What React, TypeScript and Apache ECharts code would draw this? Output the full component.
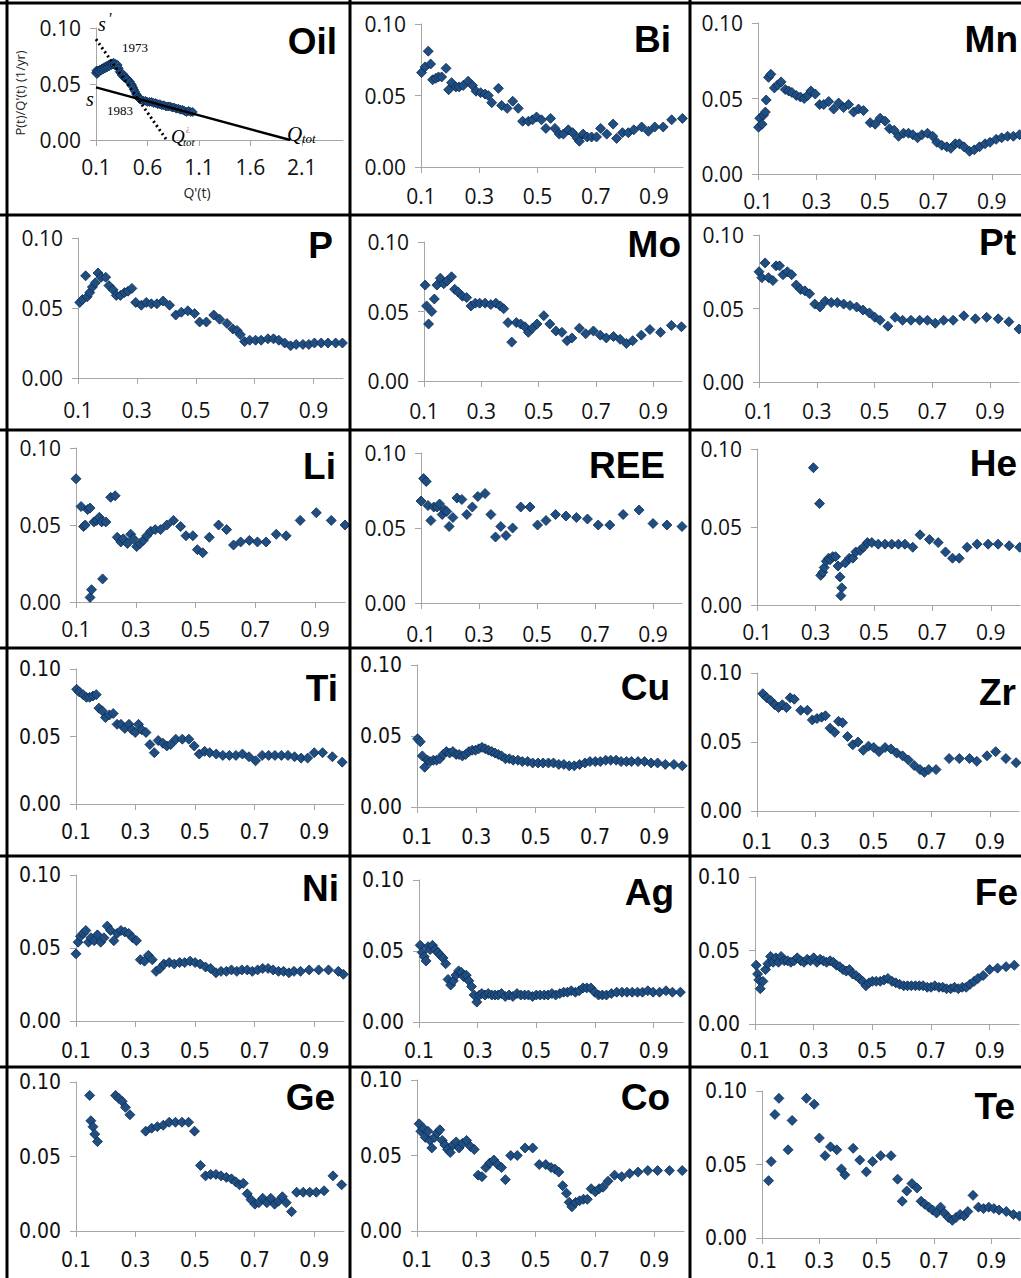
import React, { useEffect, useRef } from "react";
import * as echarts from "echarts";

// ---------- data (x = Q'(t), y = P(t)/Q'(t) in 1/yr) ----------
const oilData = [[0.10,0.060],[0.105,0.062],[0.11,0.059],[0.115,0.061],[0.12,0.062],[0.13,0.061],[0.14,0.063],[0.15,0.062],[0.16,0.064],[0.17,0.063],[0.18,0.065],[0.19,0.064],[0.20,0.066],[0.21,0.065],[0.22,0.067],[0.23,0.066],[0.24,0.068],[0.25,0.067],[0.26,0.068],[0.27,0.069],[0.28,0.067],[0.29,0.068],[0.30,0.066],[0.31,0.067],[0.32,0.064],[0.33,0.061],[0.34,0.060],[0.35,0.058],[0.36,0.059],[0.37,0.056],[0.38,0.057],[0.39,0.055],[0.40,0.055],[0.41,0.054],[0.42,0.052],[0.43,0.052],[0.44,0.050],[0.45,0.049],[0.46,0.047],[0.47,0.045],[0.48,0.043],[0.49,0.041],[0.50,0.040],[0.51,0.038],[0.52,0.037],[0.53,0.036],[0.54,0.036],[0.56,0.035],[0.58,0.035],[0.60,0.034],[0.62,0.034],[0.64,0.034],[0.66,0.033],[0.68,0.033],[0.70,0.032],[0.72,0.032],[0.74,0.031],[0.76,0.031],[0.78,0.030],[0.80,0.030],[0.82,0.030],[0.84,0.029],[0.86,0.029],[0.88,0.028],[0.90,0.028],[0.92,0.027],[0.94,0.027],[0.96,0.026],[0.98,0.025],[1.00,0.026],[1.02,0.025],[1.04,0.025]];
const oilLineEarly = [[0.1,0.090],[0.787,0.0]];
const oilLineLate = [[0.1,0.047],[1.987,0.0]];

const biData = [[0.102,0.066],[0.114,0.070],[0.125,0.081],[0.133,0.072],[0.140,0.061],[0.151,0.062],[0.160,0.063],[0.171,0.063],[0.186,0.069],[0.195,0.054],[0.205,0.059],[0.220,0.056],[0.231,0.056],[0.245,0.057],[0.262,0.060],[0.277,0.057],[0.289,0.053],[0.305,0.052],[0.320,0.051],[0.331,0.050],[0.343,0.045],[0.366,0.055],[0.377,0.043],[0.396,0.041],[0.415,0.046],[0.434,0.041],[0.449,0.032],[0.469,0.032],[0.483,0.033],[0.497,0.035],[0.514,0.033],[0.529,0.027],[0.545,0.034],[0.560,0.027],[0.575,0.023],[0.589,0.023],[0.606,0.026],[0.621,0.024],[0.637,0.020],[0.644,0.018],[0.657,0.023],[0.671,0.021],[0.686,0.021],[0.703,0.021],[0.717,0.027],[0.738,0.023],[0.760,0.030],[0.772,0.020],[0.792,0.024],[0.812,0.024],[0.831,0.026],[0.858,0.028],[0.881,0.025],[0.903,0.028],[0.932,0.028],[0.961,0.033],[0.998,0.034]];
const mnData = [[0.102,0.031],[0.106,0.037],[0.114,0.033],[0.119,0.039],[0.125,0.041],[0.128,0.049],[0.136,0.064],[0.144,0.066],[0.156,0.057],[0.167,0.059],[0.179,0.061],[0.193,0.056],[0.205,0.055],[0.216,0.054],[0.231,0.052],[0.245,0.051],[0.258,0.050],[0.270,0.052],[0.281,0.055],[0.296,0.053],[0.311,0.046],[0.325,0.046],[0.342,0.048],[0.359,0.043],[0.376,0.047],[0.393,0.044],[0.410,0.046],[0.427,0.041],[0.444,0.043],[0.461,0.042],[0.484,0.034],[0.501,0.033],[0.518,0.037],[0.535,0.035],[0.550,0.030],[0.566,0.029],[0.581,0.025],[0.598,0.027],[0.615,0.027],[0.630,0.026],[0.646,0.024],[0.661,0.026],[0.680,0.027],[0.698,0.025],[0.712,0.021],[0.729,0.019],[0.746,0.018],[0.760,0.017],[0.775,0.020],[0.789,0.020],[0.805,0.018],[0.824,0.015],[0.840,0.016],[0.858,0.018],[0.877,0.020],[0.894,0.021],[0.915,0.023],[0.934,0.024],[0.954,0.025],[0.974,0.025],[0.995,0.026]];
const pData = [[0.106,0.054],[0.115,0.056],[0.126,0.073],[0.131,0.058],[0.140,0.061],[0.149,0.065],[0.159,0.068],[0.168,0.075],[0.179,0.072],[0.194,0.072],[0.205,0.066],[0.219,0.063],[0.230,0.059],[0.244,0.059],[0.258,0.061],[0.270,0.062],[0.283,0.064],[0.296,0.054],[0.315,0.052],[0.332,0.054],[0.349,0.053],[0.368,0.053],[0.389,0.055],[0.411,0.052],[0.432,0.045],[0.451,0.047],[0.473,0.048],[0.496,0.046],[0.513,0.040],[0.536,0.040],[0.561,0.045],[0.581,0.042],[0.606,0.039],[0.626,0.035],[0.640,0.034],[0.651,0.031],[0.666,0.026],[0.683,0.027],[0.703,0.027],[0.722,0.027],[0.745,0.028],[0.764,0.028],[0.782,0.027],[0.802,0.025],[0.822,0.023],[0.841,0.024],[0.864,0.024],[0.884,0.024],[0.903,0.025],[0.926,0.025],[0.949,0.025],[0.975,0.025],[0.998,0.025]];
const moData = [[0.104,0.069],[0.109,0.054],[0.116,0.041],[0.127,0.050],[0.136,0.059],[0.145,0.069],[0.157,0.074],[0.169,0.070],[0.181,0.072],[0.196,0.075],[0.207,0.066],[0.219,0.064],[0.234,0.061],[0.249,0.060],[0.264,0.054],[0.279,0.056],[0.294,0.056],[0.313,0.056],[0.333,0.055],[0.351,0.056],[0.366,0.054],[0.378,0.052],[0.393,0.042],[0.406,0.028],[0.422,0.042],[0.437,0.041],[0.452,0.039],[0.464,0.035],[0.478,0.038],[0.494,0.041],[0.518,0.047],[0.539,0.041],[0.560,0.036],[0.581,0.035],[0.599,0.029],[0.616,0.031],[0.642,0.038],[0.664,0.034],[0.691,0.036],[0.715,0.033],[0.736,0.031],[0.761,0.032],[0.784,0.030],[0.806,0.027],[0.828,0.029],[0.858,0.033],[0.888,0.037],[0.925,0.035],[0.963,0.040],[0.998,0.039]];
const ptData = [[0.100,0.075],[0.110,0.071],[0.121,0.081],[0.133,0.071],[0.148,0.069],[0.159,0.079],[0.171,0.079],[0.183,0.073],[0.198,0.075],[0.213,0.073],[0.229,0.066],[0.244,0.063],[0.259,0.062],[0.275,0.060],[0.293,0.053],[0.311,0.051],[0.329,0.055],[0.350,0.054],[0.371,0.054],[0.393,0.053],[0.415,0.052],[0.438,0.051],[0.460,0.049],[0.482,0.047],[0.501,0.044],[0.519,0.042],[0.546,0.038],[0.571,0.044],[0.597,0.042],[0.626,0.042],[0.656,0.042],[0.683,0.042],[0.710,0.040],[0.739,0.042],[0.772,0.042],[0.809,0.045],[0.849,0.043],[0.888,0.044],[0.928,0.043],[0.965,0.041],[1.000,0.036]];
const liData = [[0.100,0.080],[0.117,0.062],[0.125,0.049],[0.131,0.050],[0.139,0.060],[0.147,0.061],[0.147,0.003],[0.152,0.008],[0.160,0.052],[0.169,0.053],[0.178,0.055],[0.186,0.052],[0.189,0.015],[0.200,0.052],[0.216,0.068],[0.231,0.069],[0.238,0.042],[0.250,0.039],[0.258,0.041],[0.272,0.038],[0.283,0.044],[0.292,0.041],[0.303,0.036],[0.314,0.038],[0.325,0.040],[0.337,0.043],[0.350,0.046],[0.365,0.047],[0.383,0.047],[0.404,0.050],[0.426,0.053],[0.450,0.049],[0.468,0.043],[0.491,0.043],[0.506,0.034],[0.524,0.032],[0.546,0.042],[0.577,0.050],[0.604,0.047],[0.627,0.037],[0.651,0.039],[0.680,0.040],[0.707,0.039],[0.736,0.039],[0.770,0.044],[0.803,0.043],[0.850,0.053],[0.904,0.058],[0.954,0.053],[1.000,0.050]];
const reeData = [[0.100,0.068],[0.109,0.083],[0.118,0.081],[0.124,0.065],[0.134,0.055],[0.144,0.064],[0.155,0.064],[0.164,0.066],[0.173,0.059],[0.181,0.062],[0.189,0.061],[0.197,0.051],[0.210,0.057],[0.224,0.070],[0.241,0.069],[0.258,0.059],[0.277,0.064],[0.296,0.071],[0.321,0.073],[0.341,0.059],[0.357,0.044],[0.375,0.051],[0.393,0.045],[0.416,0.050],[0.444,0.064],[0.476,0.064],[0.502,0.052],[0.531,0.055],[0.564,0.059],[0.600,0.058],[0.636,0.057],[0.674,0.056],[0.711,0.052],[0.751,0.052],[0.797,0.059],[0.852,0.062],[0.900,0.053],[0.948,0.052],[1.000,0.051]];
const heData = [[0.293,0.088],[0.314,0.065],[0.318,0.019],[0.325,0.021],[0.330,0.024],[0.337,0.028],[0.345,0.030],[0.350,0.029],[0.359,0.031],[0.369,0.031],[0.377,0.025],[0.384,0.018],[0.390,0.011],[0.387,0.006],[0.402,0.027],[0.416,0.030],[0.428,0.030],[0.438,0.034],[0.453,0.035],[0.464,0.037],[0.478,0.040],[0.493,0.040],[0.515,0.039],[0.538,0.039],[0.561,0.039],[0.584,0.039],[0.606,0.039],[0.633,0.037],[0.658,0.045],[0.690,0.042],[0.720,0.040],[0.745,0.034],[0.769,0.030],[0.792,0.030],[0.819,0.037],[0.853,0.039],[0.891,0.039],[0.925,0.039],[0.963,0.038],[0.999,0.037]];
const tiData = [[0.102,0.085],[0.111,0.083],[0.124,0.081],[0.135,0.079],[0.146,0.079],[0.157,0.080],[0.168,0.081],[0.177,0.071],[0.188,0.069],[0.199,0.064],[0.212,0.066],[0.225,0.067],[0.238,0.059],[0.251,0.059],[0.264,0.056],[0.278,0.059],[0.288,0.055],[0.299,0.053],[0.310,0.059],[0.321,0.055],[0.335,0.053],[0.348,0.044],[0.363,0.038],[0.376,0.047],[0.392,0.045],[0.405,0.043],[0.418,0.044],[0.435,0.048],[0.457,0.048],[0.479,0.048],[0.497,0.043],[0.514,0.037],[0.532,0.039],[0.549,0.038],[0.571,0.037],[0.593,0.036],[0.615,0.036],[0.637,0.036],[0.659,0.037],[0.681,0.035],[0.703,0.032],[0.725,0.036],[0.747,0.036],[0.768,0.036],[0.790,0.036],[0.812,0.036],[0.834,0.035],[0.856,0.034],[0.878,0.034],[0.900,0.038],[0.928,0.038],[0.961,0.035],[0.994,0.031]];
const cuData = [[0.102,0.048],[0.111,0.046],[0.118,0.036],[0.126,0.028],[0.135,0.033],[0.144,0.032],[0.155,0.033],[0.166,0.033],[0.177,0.034],[0.188,0.037],[0.199,0.039],[0.210,0.038],[0.221,0.039],[0.232,0.037],[0.242,0.037],[0.253,0.036],[0.264,0.037],[0.275,0.039],[0.286,0.040],[0.297,0.040],[0.308,0.041],[0.319,0.042],[0.330,0.041],[0.341,0.040],[0.352,0.039],[0.363,0.038],[0.374,0.037],[0.385,0.036],[0.398,0.034],[0.411,0.034],[0.424,0.033],[0.440,0.033],[0.455,0.032],[0.473,0.032],[0.490,0.031],[0.508,0.031],[0.525,0.031],[0.543,0.031],[0.560,0.031],[0.578,0.030],[0.595,0.030],[0.613,0.029],[0.630,0.029],[0.648,0.030],[0.666,0.031],[0.683,0.032],[0.701,0.032],[0.718,0.032],[0.736,0.033],[0.753,0.033],[0.771,0.033],[0.788,0.032],[0.806,0.032],[0.823,0.032],[0.845,0.032],[0.867,0.032],[0.889,0.031],[0.911,0.031],[0.937,0.030],[0.966,0.030],[0.994,0.029]];
const zrData = [[0.120,0.085],[0.134,0.082],[0.147,0.080],[0.161,0.077],[0.174,0.075],[0.187,0.077],[0.201,0.075],[0.214,0.082],[0.228,0.081],[0.250,0.073],[0.273,0.073],[0.290,0.066],[0.306,0.067],[0.322,0.068],[0.335,0.069],[0.351,0.060],[0.367,0.057],[0.380,0.065],[0.394,0.064],[0.411,0.054],[0.429,0.048],[0.447,0.050],[0.465,0.044],[0.483,0.047],[0.501,0.046],[0.519,0.043],[0.540,0.046],[0.560,0.045],[0.580,0.042],[0.600,0.040],[0.620,0.037],[0.640,0.033],[0.660,0.030],[0.675,0.028],[0.690,0.030],[0.715,0.030],[0.760,0.038],[0.795,0.038],[0.830,0.038],[0.855,0.036],[0.890,0.040],[0.920,0.043],[0.955,0.038],[0.990,0.035]];
const niData = [[0.100,0.046],[0.107,0.054],[0.115,0.058],[0.124,0.060],[0.133,0.062],[0.142,0.054],[0.150,0.057],[0.161,0.055],[0.172,0.059],[0.183,0.054],[0.194,0.057],[0.205,0.065],[0.216,0.062],[0.227,0.055],[0.238,0.060],[0.251,0.062],[0.264,0.061],[0.277,0.060],[0.290,0.057],[0.303,0.055],[0.316,0.042],[0.330,0.041],[0.343,0.045],[0.356,0.042],[0.369,0.034],[0.382,0.036],[0.395,0.039],[0.413,0.040],[0.430,0.039],[0.448,0.040],[0.465,0.040],[0.483,0.041],[0.500,0.040],[0.517,0.039],[0.535,0.037],[0.552,0.036],[0.570,0.033],[0.587,0.034],[0.605,0.034],[0.622,0.035],[0.640,0.034],[0.657,0.035],[0.675,0.035],[0.692,0.034],[0.710,0.035],[0.727,0.036],[0.745,0.036],[0.762,0.035],[0.780,0.034],[0.797,0.034],[0.815,0.033],[0.832,0.034],[0.854,0.034],[0.883,0.035],[0.915,0.035],[0.948,0.035],[0.981,0.034],[0.998,0.032]];
const agData = [[0.104,0.054],[0.111,0.049],[0.118,0.046],[0.124,0.043],[0.131,0.053],[0.138,0.051],[0.146,0.054],[0.155,0.051],[0.164,0.049],[0.173,0.047],[0.182,0.045],[0.191,0.041],[0.199,0.030],[0.208,0.026],[0.217,0.029],[0.226,0.033],[0.235,0.036],[0.244,0.035],[0.252,0.032],[0.261,0.033],[0.270,0.029],[0.279,0.025],[0.288,0.019],[0.297,0.014],[0.306,0.019],[0.314,0.020],[0.325,0.019],[0.336,0.020],[0.348,0.019],[0.359,0.019],[0.370,0.019],[0.381,0.020],[0.394,0.018],[0.407,0.019],[0.420,0.018],[0.434,0.020],[0.447,0.019],[0.460,0.019],[0.473,0.019],[0.487,0.018],[0.500,0.019],[0.513,0.019],[0.527,0.019],[0.540,0.019],[0.553,0.020],[0.566,0.019],[0.580,0.020],[0.593,0.021],[0.606,0.021],[0.619,0.022],[0.633,0.021],[0.646,0.022],[0.659,0.024],[0.672,0.024],[0.686,0.024],[0.699,0.021],[0.712,0.019],[0.725,0.019],[0.739,0.019],[0.756,0.020],[0.774,0.021],[0.792,0.021],[0.809,0.021],[0.827,0.021],[0.845,0.021],[0.862,0.021],[0.880,0.022],[0.898,0.021],[0.920,0.021],[0.942,0.022],[0.964,0.021],[0.991,0.021]];
const feData = [[0.104,0.040],[0.109,0.034],[0.113,0.030],[0.118,0.024],[0.127,0.029],[0.136,0.037],[0.144,0.041],[0.153,0.046],[0.162,0.042],[0.171,0.045],[0.180,0.042],[0.189,0.046],[0.200,0.043],[0.211,0.043],[0.222,0.042],[0.233,0.043],[0.244,0.045],[0.256,0.043],[0.267,0.042],[0.278,0.044],[0.289,0.043],[0.300,0.045],[0.311,0.042],[0.322,0.044],[0.333,0.043],[0.344,0.042],[0.356,0.043],[0.367,0.042],[0.378,0.040],[0.389,0.039],[0.400,0.037],[0.411,0.036],[0.422,0.037],[0.433,0.034],[0.444,0.033],[0.456,0.031],[0.467,0.029],[0.478,0.026],[0.489,0.028],[0.500,0.029],[0.513,0.029],[0.527,0.029],[0.540,0.030],[0.553,0.031],[0.567,0.029],[0.580,0.028],[0.593,0.027],[0.607,0.026],[0.620,0.026],[0.633,0.026],[0.647,0.026],[0.660,0.026],[0.673,0.026],[0.687,0.025],[0.700,0.025],[0.713,0.026],[0.727,0.025],[0.740,0.025],[0.753,0.024],[0.767,0.024],[0.780,0.025],[0.793,0.024],[0.807,0.025],[0.820,0.025],[0.833,0.027],[0.847,0.029],[0.860,0.031],[0.878,0.033],[0.900,0.037],[0.927,0.038],[0.956,0.039],[0.984,0.040]];
const geData = [[0.146,0.091],[0.150,0.074],[0.157,0.070],[0.163,0.065],[0.172,0.060],[0.233,0.091],[0.244,0.089],[0.255,0.087],[0.266,0.083],[0.281,0.078],[0.334,0.067],[0.354,0.069],[0.373,0.070],[0.393,0.071],[0.413,0.073],[0.434,0.073],[0.456,0.073],[0.478,0.073],[0.498,0.067],[0.518,0.044],[0.535,0.037],[0.552,0.038],[0.570,0.038],[0.587,0.037],[0.605,0.036],[0.622,0.035],[0.636,0.033],[0.649,0.031],[0.662,0.032],[0.675,0.025],[0.688,0.021],[0.701,0.018],[0.714,0.019],[0.727,0.022],[0.741,0.019],[0.754,0.022],[0.767,0.018],[0.780,0.020],[0.793,0.023],[0.806,0.019],[0.824,0.013],[0.841,0.026],[0.863,0.026],[0.885,0.026],[0.907,0.026],[0.933,0.027],[0.963,0.037],[0.992,0.031]];
const coData = [[0.107,0.071],[0.113,0.066],[0.122,0.068],[0.128,0.062],[0.137,0.066],[0.144,0.060],[0.150,0.055],[0.159,0.062],[0.168,0.065],[0.177,0.067],[0.185,0.060],[0.194,0.057],[0.203,0.054],[0.212,0.052],[0.221,0.057],[0.232,0.059],[0.242,0.055],[0.253,0.058],[0.267,0.060],[0.280,0.056],[0.293,0.054],[0.306,0.037],[0.319,0.036],[0.332,0.042],[0.345,0.045],[0.359,0.047],[0.372,0.044],[0.385,0.042],[0.398,0.034],[0.416,0.050],[0.438,0.050],[0.464,0.055],[0.490,0.055],[0.512,0.044],[0.534,0.044],[0.552,0.042],[0.565,0.041],[0.578,0.039],[0.591,0.030],[0.604,0.025],[0.613,0.019],[0.622,0.016],[0.635,0.019],[0.648,0.020],[0.661,0.021],[0.674,0.021],[0.687,0.028],[0.701,0.026],[0.714,0.028],[0.727,0.029],[0.744,0.033],[0.766,0.037],[0.790,0.036],[0.817,0.038],[0.845,0.039],[0.878,0.040],[0.911,0.040],[0.951,0.040],[0.994,0.040]];
const teData = [[0.123,0.039],[0.132,0.052],[0.145,0.084],[0.159,0.095],[0.191,0.060],[0.205,0.080],[0.255,0.095],[0.282,0.091],[0.300,0.068],[0.320,0.056],[0.339,0.062],[0.361,0.060],[0.377,0.047],[0.389,0.043],[0.418,0.061],[0.441,0.053],[0.464,0.045],[0.486,0.052],[0.514,0.056],[0.550,0.056],[0.573,0.040],[0.589,0.025],[0.605,0.032],[0.623,0.037],[0.641,0.034],[0.655,0.025],[0.668,0.023],[0.682,0.021],[0.695,0.019],[0.709,0.017],[0.723,0.021],[0.736,0.017],[0.750,0.014],[0.764,0.012],[0.777,0.014],[0.791,0.016],[0.805,0.015],[0.818,0.018],[0.836,0.029],[0.855,0.021],[0.873,0.020],[0.891,0.021],[0.909,0.020],[0.927,0.019],[0.952,0.018],[0.977,0.016],[0.998,0.015]];

const xTicksOil = [0.1, 0.6, 1.1, 1.6, 2.1];
const xTicksStd = [0.1, 0.3, 0.5, 0.7, 0.9];

// ---------- layout ----------
type Panel = {
  name: string; data: number[][];
  left: number; top: number; width: number; height: number;
  xMax: number; xTicks: number[]; xm: number;
  tx: number; ty: number; narrow: boolean;
};
const P = (name, data, left, top, width, height, xm, tx, ty, narrow, xMax = 1.0, xTicks = xTicksStd): Panel =>
  ({ name, data, left, top, width, height, xMax, xTicks, xm, tx, ty, narrow });

const panels: Panel[] = [
  P("Oil", oilData, 96, 28, 247, 112, 16, 337, 41, false, 2.5, xTicksOil),
  P("Bi", biData, 421, 24, 262, 143, 18, 671, 39, false),
  P("Mn", mnData, 758, 23, 263, 151, 16, 1018, 39, false),
  P("P", pData, 78, 238, 265, 140, 21, 333, 245, false),
  P("Mo", moData, 424, 242, 258, 139, 19, 681, 244, false),
  P("Pt", ptData, 759, 235, 260, 147, 18, 1016, 242, false),
  P("Li", liData, 76, 448, 269, 154, 16, 336, 466, false),
  P("REE", reeData, 421, 453, 261, 150, 20, 665, 465, false),
  P("He", heData, 757, 449, 263, 156, 16, 1017, 463, false),
  P("Ti", tiData, 76, 669, 268, 135, 17, 338, 688, true),
  P("Cu", cuData, 417, 665, 267, 142, 19, 670, 687, true),
  P("Zr", zrData, 757, 673, 262, 138, 20, 1016, 692, true),
  P("Ni", niData, 76, 875, 268, 146, 19, 339, 888, true),
  P("Ag", agData, 419, 880, 264, 142, 18, 674, 892, true),
  P("Fe", feData, 755, 877, 264, 147, 16, 1018, 892, true),
  P("Ge", geData, 76, 1082, 268, 149, 18, 335, 1097, true),
  P("Co", coData, 417, 1080, 267, 151, 18, 670, 1097, true),
  P("Te", teData, 762, 1091, 258, 147, 12, 1015, 1106, true),
];

const vLines = [7, 350, 690];
const hLines = [3, 215, 430, 648, 856, 1067];

const AXIS_GRAY = "#a6a6a6";
const MARK_FILL = "#1f4e83";
const MARK_EDGE = "#0c2a4d";

export default function App() {
  const ref = useRef<HTMLDivElement>(null);
  useEffect(() => {
    document.body.style.margin = "0";
    const chart = echarts.init(ref.current!, undefined, { renderer: "svg" });

    const grid: any[] = [];
    const xAxis: any[] = [];
    const yAxis: any[] = [];
    const series: any[] = [];
    const graphic: any[] = [];

    panels.forEach((p, i) => {
      const tickFont = p.narrow
        ? "'DejaVu Sans Condensed', 'Open Sans', sans-serif"
        : "'Open Sans', sans-serif";
      const tickSize = p.narrow ? 21 : 21;
      grid.push({ left: p.left, top: p.top, width: p.width, height: p.height, containLabel: false });
      xAxis.push({
        type: "value", gridIndex: i, min: 0.1, max: p.xMax,
        splitLine: { show: false },
        axisLine: { show: true, onZero: false, lineStyle: { color: AXIS_GRAY, width: 1 } },
        axisTick: { show: true, length: 6, lineStyle: { color: AXIS_GRAY }, customValues: p.xTicks },
        axisLabel: {
          customValues: p.xTicks, margin: p.xm, color: "#111",
          fontFamily: tickFont, fontSize: tickSize,
          formatter: (v: number) => v.toFixed(1),
        },
      });
      yAxis.push({
        type: "value", gridIndex: i, min: 0, max: 0.1, interval: 0.05,
        splitLine: { show: false },
        axisLine: { show: true, lineStyle: { color: AXIS_GRAY, width: 1 } },
        axisTick: { show: true, length: 6, lineStyle: { color: AXIS_GRAY } },
        axisLabel: {
          margin: 15, color: "#111", fontFamily: tickFont, fontSize: tickSize,
          formatter: (v: number) => v.toFixed(2),
        },
      });
      series.push({
        type: "scatter", name: p.name, xAxisIndex: i, yAxisIndex: i,
        data: p.data, symbol: "diamond", symbolSize: p.name === "Oil" ? 9 : 10,
        itemStyle: { color: MARK_FILL, borderColor: MARK_EDGE, borderWidth: 0.8, opacity: 1 },
        silent: true, z: 3,
      });
      graphic.push({
        type: "text", x: p.tx, y: p.ty, z: 10,
        style: {
          text: p.name, align: "right", verticalAlign: "middle",
          font: "bold 37px 'Liberation Sans', Arial, sans-serif",
          fill: "#000",
        },
      });
    });

    // Oil fitting lines
    series.push({
      type: "line", xAxisIndex: 0, yAxisIndex: 0, data: oilLineEarly, symbol: "none",
      lineStyle: { color: "#000", width: 3, type: [2, 3] }, z: 5, silent: true,
    });
    series.push({
      type: "line", xAxisIndex: 0, yAxisIndex: 0, data: oilLineLate, symbol: "none",
      lineStyle: { color: "#000", width: 2.5, type: "solid" }, z: 5, silent: true,
    });

    // Oil annotations
    const serif = "'Liberation Serif', 'DejaVu Serif', serif";
    const txt = (text: string, x: number, y: number, font: string, fill = "#000", align = "left") =>
      graphic.push({ type: "text", x, y, z: 10, style: { text, x: 0, y: 0, align, verticalAlign: "middle", font, fill } });
    txt("s", 98, 24, `italic 20px ${serif}`);
    txt("'", 108, 18, `italic 16px ${serif}`);
    txt("1973", 122, 47, `13px ${serif}`);
    txt("s", 86, 99, `italic 20px ${serif}`);
    txt("1983", 107, 110, `13px ${serif}`);
    txt("Q", 171, 136, `italic 19px ${serif}`);
    txt("¿", 186, 128, `9px ${serif}`, "#d04040");
    txt("tot", 183, 142, `italic 11px ${serif}`);
    txt("Q", 287, 134, `italic 21px ${serif}`);
    txt("tot", 302, 138, `italic 13px ${serif}`);
    graphic.push({
      type: "text", x: 20, y: 93, rotation: Math.PI / 2, z: 10,
      style: { text: "P(t)/Q'(t) (1/yr)", align: "center", verticalAlign: "middle", font: "13px 'Open Sans', sans-serif", fill: "#222" },
    });
    txt("Q'(t)", 197, 192, "14px 'Open Sans', sans-serif", "#222", "center");

    // panel borders
    vLines.forEach((x) =>
      graphic.push({ type: "line", z: 20, shape: { x1: x, y1: 0, x2: x, y2: 1278 }, style: { stroke: "#000", lineWidth: 3 } })
    );
    hLines.forEach((y) =>
      graphic.push({ type: "line", z: 20, shape: { x1: 0, y1: y, x2: 1021, y2: y }, style: { stroke: "#000", lineWidth: 3 } })
    );

    chart.setOption({
      animation: false,
      backgroundColor: "#fff",
      grid, xAxis, yAxis, series, graphic,
    });
    return () => chart.dispose();
  }, []);
  return <div ref={ref} style={{ width: 1021, height: 1278 }} />;
}
